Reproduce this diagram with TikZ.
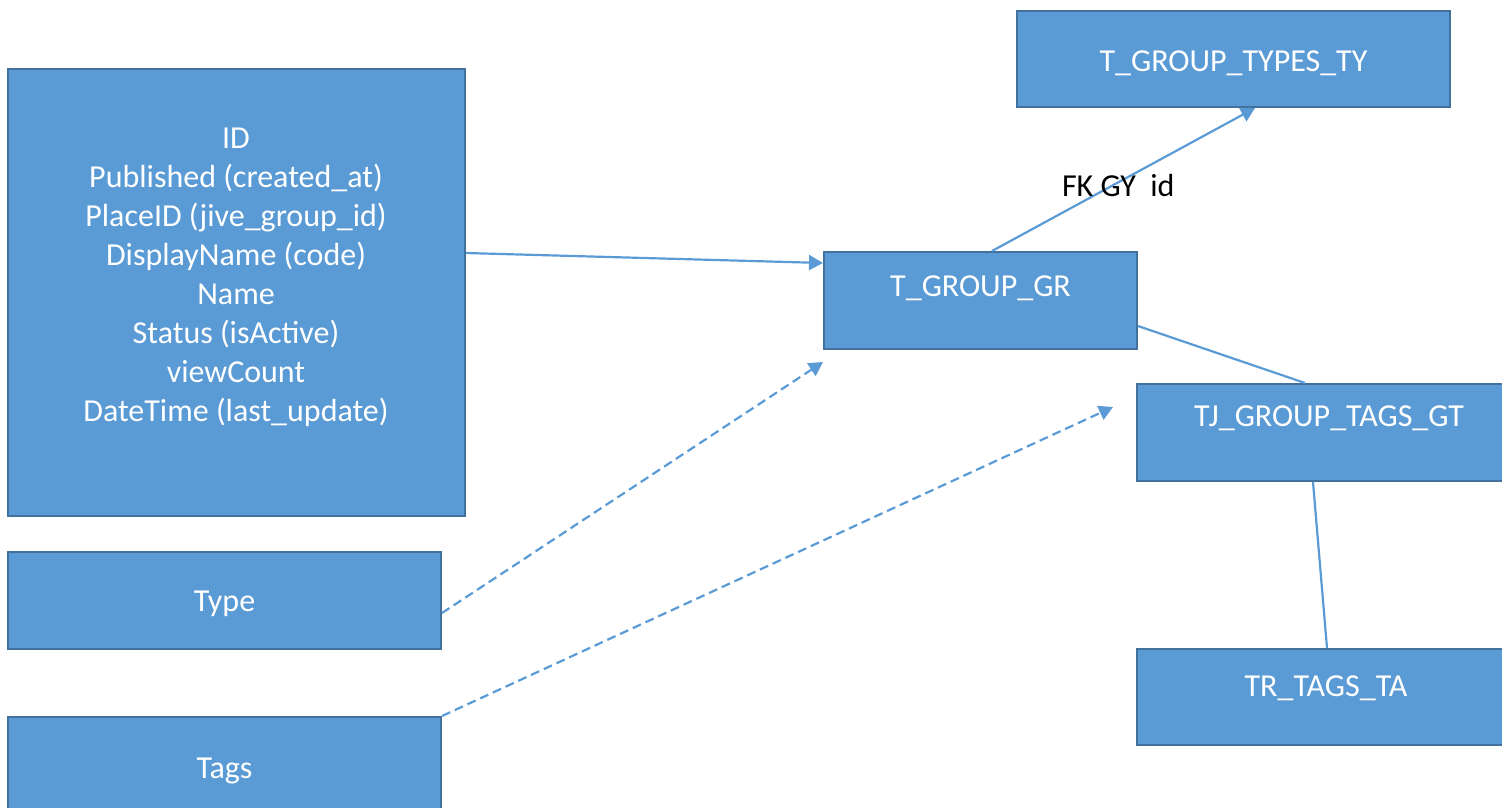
\documentclass[tikz,border=0pt]{standalone}
\usepackage{fontspec}
\setmainfont{Carlito}
\usetikzlibrary{arrows.meta,positioning}
\definecolor{boxfill}{HTML}{5B9BD5}
\definecolor{boxline}{HTML}{41719C}
\begin{document}
\begin{tikzpicture}[x=1pt, y=-1pt,
	tbl/.style={draw=boxline, line width=2pt, fill=boxfill, rectangle, inner sep=0pt},
	lbl/.style={text=white, font=\fontsize{32}{39}\selectfont, align=center},
	conn/.style={draw=boxfill, line width=2.2pt},
	arr/.style={conn, -{Triangle[width=15pt,length=14pt]}},
	dep/.style={arr, dash pattern=on 9pt off 5pt}]
	\clip (0,0) rectangle (1502,807);

	% Source record
	\node[tbl, minimum width=457pt, minimum height=447pt] (main) at (236.5,292.5) {};
	\node[lbl] (maintext) at (236,277.5) {ID\\Published (created\_at)\\PlaceID (jive\_group\_id)\\DisplayName (code)\\Name\\Status (isActive)\\viewCount\\DateTime (last\_update)};

	% Type
	\node[tbl, minimum width=433pt, minimum height=97pt] (type) at (224.5,600.5) {};
	\node[lbl] (typetext) at (224.5,604) {Type};

	% Tags
	\node[tbl, minimum width=433pt, minimum height=97pt] (tags) at (224.5,765.5) {};
	\node[lbl] (tagstext) at (224.5,771) {Tags};

	% Group table
	\node[tbl, minimum width=313pt, minimum height=97pt] (gr) at (980.5,300.5) {};
	\node[lbl] (grtext) at (980.5,288) {T\_GROUP\_GR};

	% Group types table
	\node[tbl, minimum width=433pt, minimum height=96pt] (types) at (1233.5,59) {};
	\node[lbl] (typestext) at (1233.5,63) {T\_GROUP\_TYPES\_TY};

	% Group tags join table
	\node[tbl, minimum width=400pt, minimum height=97pt] (tj) at (1337,432.5) {};
	\node[lbl] (tjtext) at (1329,418) {TJ\_GROUP\_TAGS\_GT};

	% Tags reference table
	\node[tbl, minimum width=400pt, minimum height=96pt] (tr) at (1337,697) {};
	\node[lbl] (trtext) at (1326,688) {TR\_TAGS\_TA};

	% Links
	\draw[arr] ([yshift=39.5pt]main.east) -- ([yshift=37.5pt]gr.west);
	\draw[arr] ([xshift=11.5pt]gr.north) -- node[pos=0.48, yshift=-3pt, font=\fontsize{32}{39}\selectfont, text=black] (fk) {FK GY\ \ id} ([xshift=21.5pt]types.south);
	\draw[conn] ([yshift=-25.5pt]gr.east) -- ([xshift=-32pt]tj.north);
	\draw[conn] ([xshift=-24pt]tj.south) -- ([xshift=-10pt]tr.north);

	% Mapped fields
	\coordinate (typeend) at (823,362);
	\coordinate (tagsend) at (1113,407);
	\draw[dep] ([yshift=-12.5pt]type.east) -- (typeend);
	\draw[dep] (tags.north east) -- (tagsend);
\end{tikzpicture}
\end{document}
